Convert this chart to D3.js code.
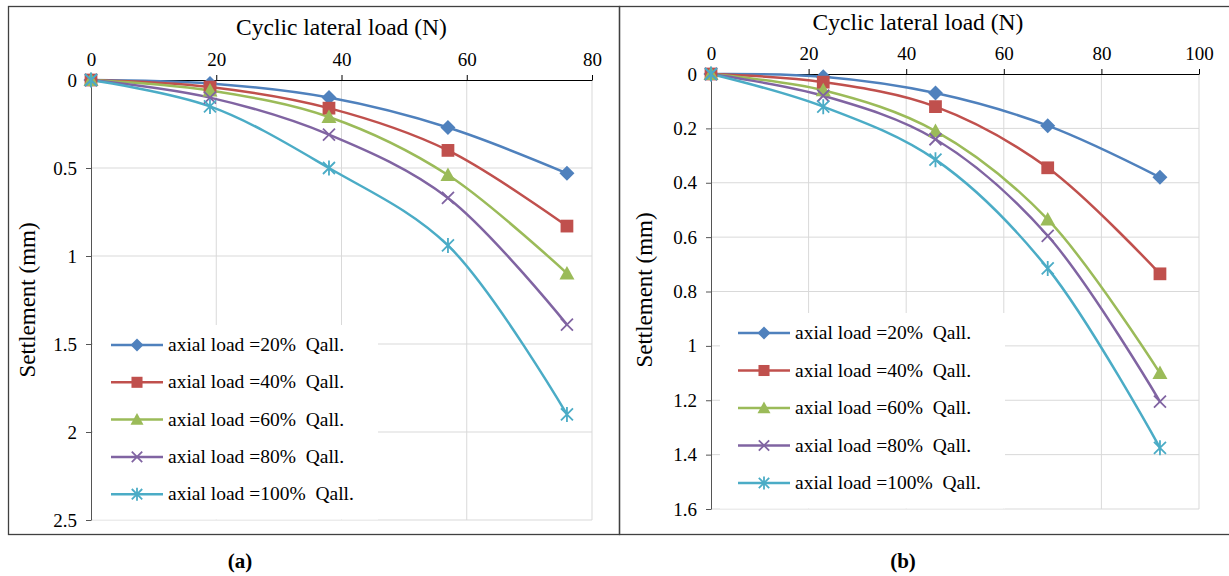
<!DOCTYPE html>
<html lang="en">
<head>
<meta charset="UTF-8">
<title>Settlement vs cyclic lateral load</title>
<script src="https://d3js.org/d3.v7.min.js"></script>
<style>
  body { margin: 0; background: #fff; }
  svg text { font-family: "Liberation Serif", "DejaVu Serif", serif; fill: #000; }
  .grid line { stroke: #d9d9d9; stroke-width: 1px; }
  .legend text { white-space: pre; }
</style>
</head>
<body>
<svg width="1229" height="576"></svg>
<script>
// series names and colours
const seriesNames = ["axial load =20%  Qall.", "axial load =40%  Qall.", "axial load =60%  Qall.",
                     "axial load =80%  Qall.", "axial load =100%  Qall."];
const colors = ["#4f81bd", "#c0504d", "#9bbb59", "#8064a2", "#4bacc6"];
const markers = ["diamond", "square", "triangle", "x", "star"];

// panel (a)
const loadA = [0, 19, 38, 57, 76];
const settleA = [
  [0, 0.02, 0.10, 0.27, 0.53],
  [0, 0.04, 0.16, 0.40, 0.83],
  [0, 0.06, 0.21, 0.54, 1.10],
  [0, 0.10, 0.31, 0.67, 1.39],
  [0, 0.15, 0.50, 0.94, 1.90]
];
const xTicksA = [0, 20, 40, 60, 80];
const yTicksA = [0, 0.5, 1, 1.5, 2, 2.5];

// panel (b)
const loadB = [0, 23, 46, 69, 92];
const settleB = [
  [0, 0.01, 0.07, 0.19, 0.38],
  [0, 0.03, 0.12, 0.345, 0.735],
  [0, 0.06, 0.21, 0.535, 1.10],
  [0, 0.08, 0.24, 0.595, 1.205],
  [0, 0.12, 0.315, 0.715, 1.375]
];
const xTicksB = [0, 20, 40, 60, 80, 100];
const yTicksB = [0, 0.2, 0.4, 0.6, 0.8, 1, 1.2, 1.4, 1.6];

const svg = d3.select("svg");
const SERIF = "'Liberation Serif', 'DejaVu Serif', serif";

// outer frames
svg.append("rect").attr("x", 8.5).attr("y", 6.5).attr("width", 611).attr("height", 528)
  .attr("fill", "none").attr("stroke", "#404040").attr("stroke-width", 1.3);
svg.append("rect").attr("x", 619.5).attr("y", 6.5).attr("width", 620).attr("height", 528)
  .attr("fill", "none").attr("stroke", "#404040").attr("stroke-width", 1.3);

function marker(g, type, color, s) {
  if (type === "diamond") {
    g.append("path").attr("d", `M0,${-s}L${s},0L0,${s}L${-s},0Z`).attr("fill", color);
  } else if (type === "square") {
    g.append("rect").attr("x", -s * 0.85).attr("y", -s * 0.85).attr("width", s * 1.7).attr("height", s * 1.7).attr("fill", color);
  } else if (type === "triangle") {
    g.append("path").attr("d", `M0,${-s}L${s},${s * 0.8}L${-s},${s * 0.8}Z`).attr("fill", color);
  } else if (type === "x") {
    g.append("path").attr("d", `M${-s * 0.8},${-s * 0.8}L${s * 0.8},${s * 0.8}M${-s * 0.8},${s * 0.8}L${s * 0.8},${-s * 0.8}`)
      .attr("stroke", color).attr("stroke-width", 1.8);
  } else {
    g.append("path").attr("d", `M${-s * 0.8},${-s * 0.8}L${s * 0.8},${s * 0.8}M${-s * 0.8},${s * 0.8}L${s * 0.8},${-s * 0.8}M0,${-s}L0,${s}`)
      .attr("stroke", color).attr("stroke-width", 1.8);
  }
}

function drawPanel(cfg) {
  const x = d3.scaleLinear().domain(cfg.xDomain).range([cfg.left, cfg.right]);
  const y = d3.scaleLinear().domain(cfg.yDomain).range([cfg.top, cfg.bottom]);
  const g = svg.append("g");

  // gridlines
  const grid = g.append("g").attr("class", "grid");
  grid.selectAll(".v").data(cfg.xTicks.slice(1)).enter().append("line")
    .attr("x1", d => x(d)).attr("x2", d => x(d)).attr("y1", cfg.top).attr("y2", cfg.bottom);
  grid.selectAll(".h").data(cfg.yTicks.slice(1)).enter().append("line")
    .attr("x1", cfg.left).attr("x2", cfg.right).attr("y1", d => y(d)).attr("y2", d => y(d));

  // axes
  g.append("g").attr("transform", `translate(0,${cfg.top})`)
    .call(d3.axisTop(x).tickValues(cfg.xTicks).tickSize(5).tickPadding(9).tickSizeOuter(0).tickFormat(d3.format("")))
    .call(a => a.attr("font-family", SERIF).attr("font-size", 19))
    .call(a => a.selectAll("path, line").attr("stroke", "#000"));
  g.append("g").attr("transform", `translate(${cfg.left},0)`)
    .call(d3.axisLeft(y).tickValues(cfg.yTicks).tickSize(5).tickPadding(9).tickSizeOuter(0).tickFormat(d => String(d)))
    .call(a => a.attr("font-family", SERIF).attr("font-size", 19))
    .call(a => a.selectAll("path, line").attr("stroke", "#555"));

  // legend background
  const lg = g.append("g").attr("class", "legend");
  lg.append("rect").attr("x", cfg.legX - 18).attr("y", cfg.legY - 20)
    .attr("width", cfg.legW).attr("height", cfg.legStep * 5 + 8).attr("fill", "#fff");

  // series lines
  const line = d3.line().x(d => x(d[0])).y(d => y(d[1])).curve(d3.curveCatmullRom.alpha(0.5));
  cfg.data.forEach((vals, i) => {
    const pts = cfg.loads.map((l, j) => [l, vals[j]]);
    g.append("path").datum(pts).attr("d", line).attr("fill", "none")
      .attr("stroke", colors[i]).attr("stroke-width", 2.5);
  });
  cfg.data.forEach((vals, i) => {
    cfg.loads.forEach((l, j) => {
      const m = g.append("g").attr("transform", `translate(${x(l)},${y(vals[j])})`);
      marker(m, markers[i], colors[i], 7.5);
    });
  });

  // legend entries
  seriesNames.forEach((name, i) => {
    const yy = cfg.legY + i * cfg.legStep;
    lg.append("line").attr("x1", cfg.legX).attr("x2", cfg.legX + 52).attr("y1", yy).attr("y2", yy)
      .attr("stroke", colors[i]).attr("stroke-width", 2.5);
    marker(lg.append("g").attr("transform", `translate(${cfg.legX + 26},${yy})`), markers[i], colors[i], 6.5);
    lg.append("text").attr("x", cfg.legX + 57).attr("y", yy + 6)
      .attr("font-family", SERIF).attr("font-size", 19.5).text(name);
  });

  // titles
  svg.append("text").attr("x", (cfg.left + cfg.right) / 2 + cfg.titleDx).attr("y", cfg.titleY)
    .attr("text-anchor", "middle").attr("font-family", SERIF).attr("font-size", 23.5).text("Cyclic lateral load (N)");
  svg.append("text").attr("transform", `translate(${cfg.yLabX},${cfg.yLabY}) rotate(-90)`)
    .attr("text-anchor", "middle").attr("font-family", SERIF).attr("font-size", 23).text("Settlement (mm)");
  svg.append("text").attr("x", cfg.capX).attr("y", 568).attr("text-anchor", "middle")
    .attr("font-family", SERIF).attr("font-size", 21).attr("font-weight", "bold").text(cfg.caption);
}

drawPanel({
  xDomain: [0, 80], yDomain: [0, 2.5], left: 91, right: 592, top: 80, bottom: 520,
  xTicks: xTicksA, yTicks: yTicksA, loads: loadA, data: settleA,
  legX: 111, legY: 345, legStep: 37.3, legW: 285,
  titleY: 35, titleDx: 0, yLabX: 35, yLabY: 300, capX: 240, caption: "(a)"
});

drawPanel({
  xDomain: [0, 100], yDomain: [0, 1.6], left: 711, right: 1199, top: 74, bottom: 509,
  xTicks: xTicksB, yTicks: yTicksB, loads: loadB, data: settleB,
  legX: 738, legY: 333, legStep: 37.5, legW: 285,
  titleY: 30, titleDx: -37, yLabX: 652, yLabY: 290, capX: 903, caption: "(b)"
});
</script>
</body>
</html>
